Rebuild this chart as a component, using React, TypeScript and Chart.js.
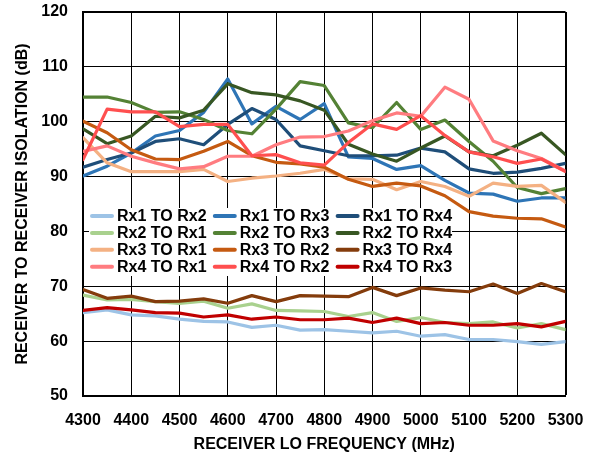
import React, { useEffect, useRef } from "react";
import { Chart, registerables } from "chart.js";

Chart.register(...registerables);

const frequencies = [4300, 4350, 4400, 4450, 4500, 4550, 4600, 4650, 4700, 4750, 4800, 4850, 4900, 4950, 5000, 5050, 5100, 5150, 5200, 5250, 5300];

const seriesNames = [
  "Rx1 TO Rx2", "Rx1 TO Rx3", "Rx1 TO Rx4",
  "Rx2 TO Rx1", "Rx2 TO Rx3", "Rx2 TO Rx4",
  "Rx3 TO Rx1", "Rx3 TO Rx2", "Rx3 TO Rx4",
  "Rx4 TO Rx1", "Rx4 TO Rx2", "Rx4 TO Rx3",
];

const seriesColors = [
  "#9DC3E6", "#2E75B6", "#1F4E79",
  "#A9D18E", "#548235", "#385723",
  "#F4B183", "#C55A11", "#843C0C",
  "#FF7C80", "#FF4F4F", "#C00000",
];

const rx1ToRx2 = [65.2, 65.7, 64.8, 64.6, 64.0, 63.6, 63.5, 62.5, 62.9, 62.0, 62.1, 61.8, 61.5, 61.8, 60.9, 61.2, 60.3, 60.3, 59.9, 59.4, 59.9];
const rx1ToRx3 = [90.1, 91.9, 94.3, 97.4, 98.4, 101.7, 107.8, 99.6, 102.8, 100.4, 103.3, 93.6, 93.3, 91.3, 92.0, 89.3, 87.0, 86.8, 85.5, 86.1, 86.1];
const rx1ToRx4 = [91.7, 93.1, 94.3, 96.4, 96.9, 95.8, 99.5, 102.4, 100.4, 95.6, 94.7, 93.8, 93.8, 93.9, 95.2, 94.5, 91.4, 90.6, 90.8, 91.5, 92.4];
const rx2ToRx1 = [68.4, 67.5, 67.6, 67.2, 66.9, 67.3, 66.0, 66.8, 65.6, 65.5, 65.4, 64.5, 65.2, 63.6, 64.3, 63.4, 63.2, 63.5, 62.4, 63.2, 62.1];
const rx2ToRx3 = [104.5, 104.5, 103.5, 101.7, 101.8, 100.4, 98.4, 97.8, 102.3, 107.3, 106.6, 99.8, 98.9, 103.5, 98.6, 100.3, 96.4, 92.8, 88.0, 86.9, 87.8];
const rx2ToRx4 = [98.7, 96.0, 97.4, 101.0, 100.7, 102.1, 106.9, 105.3, 104.9, 103.8, 102.1, 95.9, 94.1, 92.8, 95.2, 97.4, 94.5, 93.8, 95.7, 97.9, 94.0];
const rx3ToRx1 = [97.1, 92.5, 90.9, 90.9, 90.9, 91.3, 89.1, 89.7, 90.1, 90.6, 91.3, 89.6, 89.5, 87.6, 89.1, 88.2, 86.4, 88.8, 88.2, 88.4, 85.3];
const rx3ToRx2 = [100.1, 98.0, 94.9, 93.2, 93.1, 94.6, 96.4, 93.8, 92.6, 92.3, 91.7, 89.5, 88.2, 88.8, 88.3, 86.5, 83.6, 82.8, 82.4, 82.3, 80.8];
const rx3ToRx4 = [69.4, 67.8, 68.2, 67.2, 67.3, 67.7, 66.9, 68.3, 67.2, 68.3, 68.2, 68.1, 69.8, 68.3, 69.7, 69.3, 69.0, 70.4, 68.7, 70.5, 69.0];
const rx4ToRx1 = [94.6, 95.6, 93.7, 92.5, 91.4, 91.8, 93.7, 93.7, 95.8, 97.2, 97.3, 98.3, 100.2, 101.6, 101.0, 106.3, 104.1, 96.5, 94.7, 93.3, 91.0];
const rx4ToRx2 = [93.1, 102.3, 101.8, 101.8, 99.1, 99.5, 99.5, 93.8, 94.0, 92.5, 92.1, 96.2, 99.6, 98.6, 101.1, 97.5, 94.5, 93.6, 92.4, 93.2, 90.9];
const rx4ToRx3 = [65.6, 66.1, 65.7, 65.2, 65.1, 64.4, 64.8, 64.0, 64.4, 63.9, 63.9, 64.2, 63.4, 64.2, 63.2, 63.4, 62.9, 62.9, 63.2, 62.6, 63.6];

const seriesValues = [
  rx1ToRx2, rx1ToRx3, rx1ToRx4,
  rx2ToRx1, rx2ToRx3, rx2ToRx4,
  rx3ToRx1, rx3ToRx2, rx3ToRx4,
  rx4ToRx1, rx4ToRx2, rx4ToRx3,
];

const xTitle = "RECEIVER LO FREQUENCY (MHz)";
const yTitle = "RECEIVER TO RECEIVER ISOLATION (dB)";

const FONT = "'Liberation Sans', Arial, sans-serif";

const legendPlugin = {
  id: "boxLegend",
  afterDraw(chart: any) {
    const ctx = chart.ctx;
    const area = chart.chartArea;
    const boxLeft = area.left + 6;
    const boxTop = 208;
    const boxW = 363;
    const boxH = 68;
    ctx.save();
    ctx.fillStyle = "#ffffff";
    ctx.fillRect(boxLeft, boxTop, boxW, boxH);
    ctx.font = `bold 16px ${FONT}`;
    ctx.textBaseline = "middle";
    ctx.textAlign = "left";
    chart.data.datasets.forEach((ds: any, i: number) => {
      const col = i % 3;
      const row = Math.floor(i / 3);
      const x = boxLeft + 3 + col * 122.8;
      const y = boxTop + 8 + row * 16.9;
      ctx.strokeStyle = ds.borderColor;
      ctx.lineWidth = 4;
      ctx.lineCap = "round";
      ctx.beginPath();
      ctx.moveTo(x, y);
      ctx.lineTo(x + 20, y);
      ctx.stroke();
      ctx.fillStyle = "#000";
      ctx.fillText(ds.label, x + 25, y + 1);
    });
    ctx.restore();
  },
};

const zeroPadding = (scale: any) => {
  scale.paddingTop = 0;
  scale.paddingBottom = 0;
  scale.paddingLeft = 0;
  scale.paddingRight = 0;
};

export default function App() {
  const canvasRef = useRef<HTMLCanvasElement | null>(null);

  useEffect(() => {
    if (!canvasRef.current) return;
    const datasets = seriesNames.map((name, i) => ({
      label: name,
      data: frequencies.map((f, j) => ({ x: f, y: seriesValues[i][j] })),
      borderColor: seriesColors[i],
      backgroundColor: seriesColors[i],
      borderWidth: 3.2,
      pointRadius: 0,
      tension: 0,
      borderJoinStyle: "round" as const,
      borderCapStyle: "round" as const,
      fill: false,
      order: seriesNames.length - i,
    }));

    const chart = new Chart(canvasRef.current, {
      type: "line",
      data: { datasets },
      plugins: [legendPlugin],
      options: {
        animation: false,
        responsive: false,
        maintainAspectRatio: false,
        devicePixelRatio: 1,
        layout: { padding: { left: 0, top: 12, right: 25.5, bottom: 0 } },
        plugins: {
          legend: { display: false },
          tooltip: { enabled: false },
        },
        scales: {
          x: {
            type: "linear",
            min: 4300,
            max: 5300,
            afterFit: (scale: any) => {
              scale.height = 62;
              zeroPadding(scale);
            },
            ticks: {
              stepSize: 100,
              padding: 15,
              color: "#000",
              font: { family: FONT, size: 16, weight: "bold" },
              callback: (v: any) => String(v),
              maxRotation: 0,
              autoSkip: false,
            },
            grid: {
              color: "#000",
              lineWidth: (c: any) => (c.tick && c.tick.value === 5300 ? 2 : 1),
              drawTicks: false,
            },
            border: { color: "#000", width: 2 },
            title: {
              display: true,
              text: xTitle,
              color: "#000",
              font: { family: FONT, size: 16, weight: "bold" },
              padding: { top: 0, bottom: 4 },
            },
          },
          y: {
            type: "linear",
            min: 50,
            max: 120,
            afterFit: (scale: any) => {
              scale.width = 83;
              zeroPadding(scale);
            },
            ticks: {
              stepSize: 10,
              padding: 15,
              color: "#000",
              font: { family: FONT, size: 16, weight: "bold" },
            },
            grid: {
              color: "#000",
              lineWidth: (c: any) => (c.tick && c.tick.value === 120 ? 2 : 1),
              drawTicks: false,
            },
            border: { color: "#000", width: 2 },
            title: {
              display: true,
              text: yTitle,
              color: "#000",
              font: { family: FONT, size: 16, weight: "bold" },
              padding: { top: 13, bottom: 0 },
            },
          },
        },
      },
    });
    return () => chart.destroy();
  }, []);

  return (
    <div style={{ position: "fixed", left: 0, top: 0, width: 591, height: 458, background: "#fff" }}>
      <canvas ref={canvasRef} width={591} height={458} style={{ display: "block" }} />
    </div>
  );
}
